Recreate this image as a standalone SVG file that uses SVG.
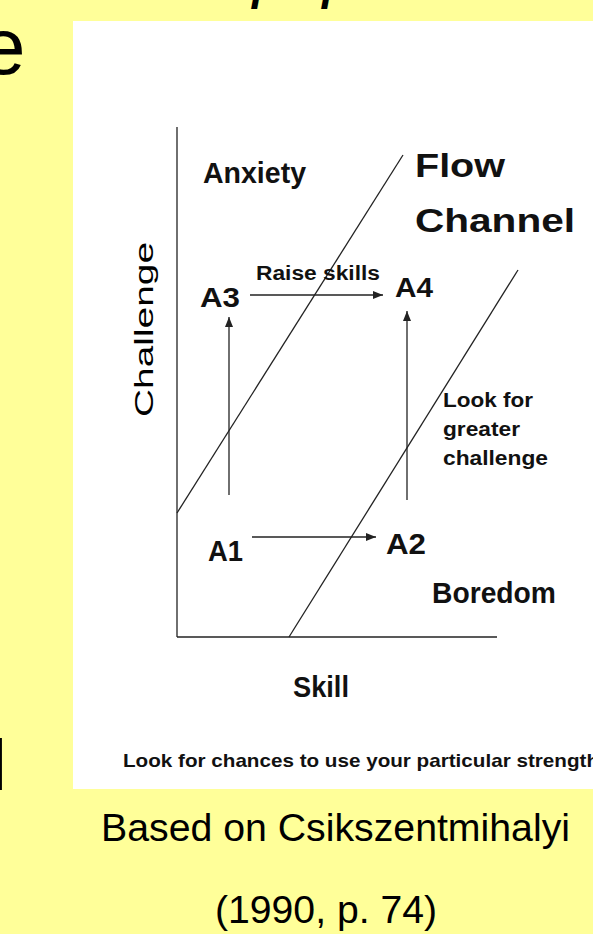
<svg xmlns="http://www.w3.org/2000/svg" width="593" height="934" viewBox="0 0 593 934">
<defs>
<style>
.bg{fill:#FFFF99}
.panel{fill:#FFFFFF}
.lab{font-family:"Liberation Sans",Arial,sans-serif;font-weight:bold;fill:#111111}
.reg{font-family:"Liberation Sans",Arial,sans-serif;fill:#000000}
.ax{stroke:#222222;stroke-width:1.3;fill:none}
.arr{stroke:#222222;stroke-width:1.3;fill:none;marker-end:url(#ah)}
</style>
<marker id="ah" viewBox="0 0 10 8" refX="10" refY="4" markerUnits="userSpaceOnUse" markerWidth="10" markerHeight="8" orient="auto">
<path d="M0,0 L10,4 L0,8 Z" fill="#222222"/>
</marker>
</defs>
<rect class="bg" x="0" y="0" width="593" height="934"/>
<g id="slide-fragments">
<text class="reg" x="-19" y="74" font-size="80">e</text>
<text class="reg" x="-9.3" y="790" font-size="72">l</text>
<text class="reg" x="252" y="0" font-size="44" font-style="italic" font-weight="bold">p</text>
<text class="reg" x="322" y="0" font-size="44" font-style="italic" font-weight="bold">p</text>
</g>
<rect class="panel" x="73" y="21" width="520" height="768"/>
<g id="axes">
<line class="ax" x1="177" y1="127" x2="177" y2="637"/>
<line class="ax" x1="177" y1="637" x2="497" y2="637"/>
<line class="ax" x1="177" y1="513" x2="403" y2="155"/>
<line class="ax" x1="289" y1="637" x2="518" y2="270"/>
</g>
<g id="connectors">
<line class="arr" x1="250" y1="295" x2="383" y2="295"/>
<line class="arr" x1="252" y1="537" x2="376" y2="537"/>
<line class="arr" x1="229" y1="495" x2="229" y2="317"/>
<line class="arr" x1="407" y1="500" x2="407" y2="311"/>
</g>
<g id="anxiety"><text class="lab" x="203" y="183" font-size="29" textLength="103" lengthAdjust="spacingAndGlyphs">Anxiety</text></g>
<g id="flow-channel">
<text class="lab" x="415" y="177" font-size="33" textLength="90" lengthAdjust="spacingAndGlyphs">Flow</text>
<text class="lab" x="415" y="232" font-size="34" textLength="160" lengthAdjust="spacingAndGlyphs">Channel</text>
</g>
<g id="raise-skills"><text class="lab" x="256" y="280" font-size="20" textLength="124" lengthAdjust="spacingAndGlyphs">Raise skills</text></g>
<g id="A3"><text class="lab" x="200" y="307" font-size="28" textLength="40" lengthAdjust="spacingAndGlyphs">A3</text></g>
<g id="A4"><text class="lab" x="395" y="297" font-size="28" textLength="38" lengthAdjust="spacingAndGlyphs">A4</text></g>
<g id="A1"><text class="lab" x="208" y="561" font-size="30" textLength="35" lengthAdjust="spacingAndGlyphs">A1</text></g>
<g id="A2"><text class="lab" x="386" y="554" font-size="30" textLength="40" lengthAdjust="spacingAndGlyphs">A2</text></g>
<g id="look-for-greater-challenge">
<text class="lab" x="443" y="407" font-size="21" textLength="90" lengthAdjust="spacingAndGlyphs">Look for</text>
<text class="lab" x="443" y="436" font-size="21" textLength="77" lengthAdjust="spacingAndGlyphs">greater</text>
<text class="lab" x="443" y="465" font-size="21" textLength="105" lengthAdjust="spacingAndGlyphs">challenge</text>
</g>
<g id="boredom"><text class="lab" x="432" y="603" font-size="29" textLength="124" lengthAdjust="spacingAndGlyphs">Boredom</text></g>
<g id="skill"><text class="lab" x="293" y="697" font-size="30" textLength="56" lengthAdjust="spacingAndGlyphs">Skill</text></g>
<g id="challenge-axis"><text class="reg" transform="translate(153,417) rotate(-90)" x="0" y="0" font-size="25" textLength="175" lengthAdjust="spacingAndGlyphs" fill="#111111">Challenge</text></g>
<g id="caption"><text class="lab" x="123" y="767" font-size="19" textLength="476" lengthAdjust="spacingAndGlyphs">Look for chances to use your particular strength</text></g>
<g id="source">
<text class="reg" x="101" y="841" font-size="38" textLength="469" lengthAdjust="spacingAndGlyphs">Based on Csikszentmihalyi</text>
<text class="reg" x="215" y="923" font-size="38" textLength="222" lengthAdjust="spacingAndGlyphs">(1990, p. 74)</text>
</g>
</svg>
